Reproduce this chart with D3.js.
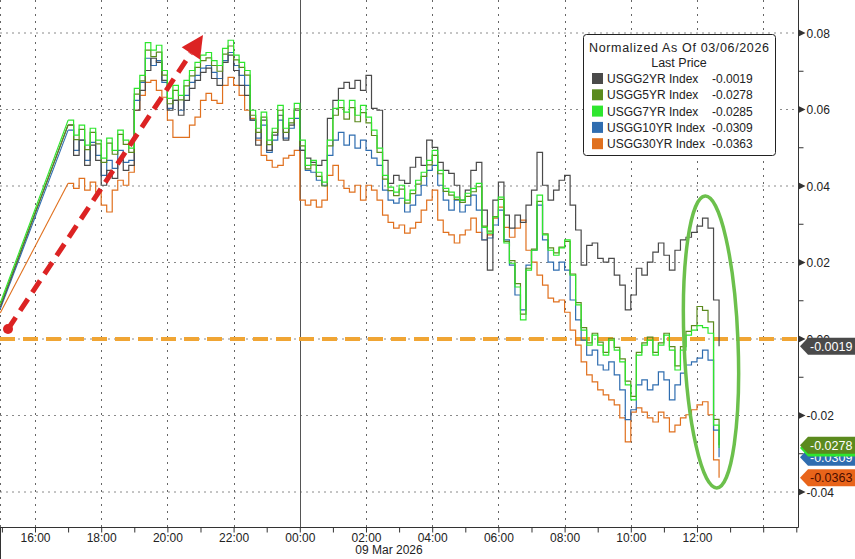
<!DOCTYPE html>
<html><head><meta charset="utf-8">
<script src="https://cdn.jsdelivr.net/npm/d3@7"></script>
<style>body{margin:0;background:#fff;} svg{display:block;font-family:"Liberation Sans",Arial,sans-serif;}</style>
</head><body><svg id="c" width="855" height="559"></svg>
<script>
// ---- data ----
const seriesNames = ["USGG2YR Index","USGG5YR Index","USGG7YR Index","USGG10YR Index","USGG30YR Index"];
const lastPrices = [-0.0019,-0.0278,-0.0285,-0.0309,-0.0363];
const startTime = Date.UTC(2026,2,8,14,57);
const firstTick = Date.UTC(2026,2,8,17,0);   // then every 10 minutes
const stepMinutes = 10;
const yTicks = [0.08,0.06,0.04,0.02,0.00,-0.02,-0.04];
const yMinor = [0.07,0.05,0.03,0.01,-0.01,-0.03];
const dateLabel = "09 Mar 2026";
const legendTitle = "Normalized As Of 03/06/2026";
const legendSub = "Last Price";

const usgg2 = [.0083,
.0559,.0480,.0520,.0454,.0507,.0467,.0402,.0441,.0420,.0467,.0441,.0454,
.0598,.0650,.0702,.0734,.0723,.0676,.0598,.0624,.0585,.0624,.0655,.0676,
.0697,.0708,.0681,.0663,.0723,.0742,.0702,.0663,.0637,.0572,.0507,.0572,
.0493,.0533,.0585,.0520,.0559,.0598,.0493,.0473,.0462,.0454,.0467,.0577,
.0624,.0655,.0671,.0655,.0676,.0650,.0689,.0603,.0598,.0467,.0407,.0428,
.0415,.0407,.0449,.0475,.0454,.0520,.0501,.0462,.0441,.0433,.0402,.0363,
.0389,.0441,.0462,.0337,.0180,.0363,.0410,.0324,.0290,.0324,.0305,.0350,
.0389,.0488,.0402,.0363,.0389,.0415,.0428,.0350,.0285,.0193,.0245,.0251,
.0211,.0201,.0211,.0167,.0141,.0076,.0115,.0185,.0167,.0201,.0227,.0251,
.0219,.0180,.0232,.0259,.0266,.0279,.0295,.0316,.0290,.0102,-.0019];

const usgg5 = [.0088,
.0560,.0521,.0548,.0495,.0540,.0510,.0462,.0512,.0483,.0535,.0509,.0488,
.0640,.0675,.0755,.0738,.0750,.0690,.0615,.0650,.0625,.0662,.0688,.0710,
.0728,.0735,.0715,.0700,.0745,.0766,.0730,.0710,.0690,.0585,.0540,.0580,
.0508,.0540,.0598,.0540,.0565,.0602,.0505,.0445,.0455,.0425,.0400,.0505,
.0585,.0605,.0575,.0605,.0568,.0592,.0565,.0532,.0488,.0418,.0388,.0375,
.0392,.0355,.0380,.0405,.0425,.0455,.0480,.0432,.0386,.0376,.0365,.0357,
.0373,.0385,.0398,.0295,.0282,.0320,.0365,.0255,.0205,.0145,.0065,.0185,
.0235,.0360,.0275,.0238,.0225,.0240,.0255,.0170,.0095,.0030,-.0010,.0015,
-.0008,-.0035,.0002,-.0022,-.0052,-.0110,-.0150,-.0035,-.0010,.0005,-.0035,-.0010,
.0015,-.0020,-.0070,-.0020,.0020,.0035,.0085,.0075,.0045,-.0210,-.0278];

const usgg7 = [.0094,
.0572,.0533,.0559,.0507,.0551,.0520,.0473,.0525,.0493,.0546,.0520,.0499,
.0655,.0689,.0775,.0755,.0768,.0702,.0629,.0663,.0637,.0676,.0702,.0723,
.0742,.0749,.0728,.0715,.0760,.0781,.0742,.0723,.0702,.0598,.0551,.0593,
.0520,.0551,.0611,.0551,.0577,.0616,.0520,.0454,.0467,.0436,.0410,.0520,
.0603,.0624,.0593,.0624,.0585,.0611,.0580,.0546,.0499,.0428,.0397,.0384,
.0402,.0363,.0389,.0415,.0436,.0467,.0493,.0441,.0394,.0384,.0371,.0363,
.0381,.0394,.0407,.0292,.0277,.0319,.0371,.0251,.0198,.0136,.0050,.0180,
.0232,.0376,.0272,.0232,.0219,.0238,.0259,.0167,.0089,.0023,-.0016,.0010,
-.0016,-.0042,-.0003,-.0029,-.0060,-.0120,-.0159,-.0042,-.0016,-.0003,-.0042,-.0016,
.0010,-.0029,-.0081,-.0029,.0010,.0023,.0035,.0030,.0015,-.0225,-.0285];

const usgg10 = [.0078,
.0546,.0493,.0520,.0467,.0514,.0480,.0428,.0467,.0446,.0493,.0462,.0467,
.0624,.0671,.0734,.0715,.0728,.0671,.0603,.0624,.0598,.0637,.0671,.0689,
.0708,.0715,.0697,.0681,.0728,.0749,.0715,.0689,.0663,.0572,.0525,.0559,
.0488,.0520,.0572,.0525,.0551,.0577,.0493,.0441,.0436,.0415,.0402,.0480,
.0520,.0540,.0507,.0533,.0499,.0520,.0493,.0473,.0454,.0389,.0363,.0355,
.0368,.0332,.0350,.0376,.0402,.0441,.0454,.0402,.0363,.0337,.0363,.0332,
.0350,.0376,.0337,.0259,.0264,.0298,.0337,.0259,.0193,.0115,.0076,.0193,
.0232,.0350,.0259,.0201,.0180,.0201,.0180,.0102,.0050,-.0003,-.0042,-.0029,
-.0068,-.0081,-.0060,-.0094,-.0133,-.0211,-.0185,-.0120,-.0107,-.0133,-.0120,-.0086,
-.0107,-.0159,-.0120,-.0089,-.0068,-.0060,-.0050,-.0029,-.0055,-.0238,-.0309];

const usgg30 = [.0068,
.0407,.0394,.0420,.0389,.0410,.0384,.0350,.0332,.0389,.0415,.0402,.0436,
.0598,.0637,.0671,.0676,.0650,.0632,.0572,.0527,.0527,.0527,.0559,.0580,
.0624,.0642,.0624,.0616,.0663,.0684,.0663,.0637,.0598,.0577,.0520,.0480,
.0467,.0449,.0454,.0473,.0480,.0493,.0363,.0350,.0363,.0345,.0363,.0428,
.0454,.0415,.0394,.0384,.0402,.0363,.0402,.0389,.0363,.0324,.0305,.0290,
.0298,.0277,.0290,.0305,.0337,.0363,.0389,.0311,.0279,.0272,.0251,.0272,
.0285,.0316,.0279,.0259,.0272,.0316,.0345,.0292,.0266,.0290,.0311,.0232,
.0201,.0167,.0141,.0107,.0097,.0102,.0070,.0023,-.0016,-.0060,-.0094,-.0112,
-.0133,-.0146,-.0159,-.0172,-.0206,-.0269,-.0191,-.0180,-.0191,-.0206,-.0217,-.0191,
-.0206,-.0243,-.0225,-.0206,-.0198,-.0185,-.0172,-.0164,-.0198,-.0316,-.0363];

const seriesValues = [usgg2, usgg5, usgg7, usgg10, usgg30];
const colors = ["#4a4a4a","#5b8a1e","#2ee62e","#2f6db0","#e0701e"];
const tagColors = ["#4a4a4a","#5b8a1e","#2ee62e","#2f6db0","#e8641a"];
const tagText = ["#fff","#fff","#fff","#fff","#4a0d00"];

// ---- chart ----
const svg = d3.select("#c");
const W = 798, H = 527;
const x = d3.scaleUtc()
  .domain([Date.UTC(2026,2,8,14,56,34), Date.UTC(2026,2,9,15,3,5)])
  .range([0, W]);
const y = d3.scaleLinear().domain([-0.04, 0.08]).range([492, 33]);

const times = [startTime].concat(d3.range(usgg2.length - 1).map(i => firstTick + i * stepMinutes * 60000));

// gridlines
const g2 = x.ticks(d3.utcHour.every(2));
svg.append("g").selectAll("line").data(yTicks).join("line")
  .attr("x1", 0).attr("x2", W).attr("y1", d => y(d)).attr("y2", d => y(d))
  .attr("stroke", "#8a8a8a").attr("stroke-width", 1).attr("stroke-dasharray", "2,4");
svg.append("g").selectAll("line").data(g2).join("line")
  .attr("x1", d => Math.round(x(d)) + 0.5).attr("x2", d => Math.round(x(d)) + 0.5)
  .attr("y1", 0).attr("y2", H)
  .attr("stroke", d => d.getUTCHours() === 0 ? "#555" : "#666")
  .attr("stroke-width", 1)
  .attr("stroke-dasharray", d => d.getUTCHours() === 0 ? null : "2,5");
svg.append("line").attr("x1", 0.5).attr("x2", 0.5).attr("y1", 0).attr("y2", H)
  .attr("stroke", "#666").attr("stroke-dasharray", "2,5");
svg.append("line").attr("x1", 0.5).attr("x2", 0.5).attr("y1", H).attr("y2", 559)
  .attr("stroke", "#333");

// orange dashed level line
svg.append("line").attr("x1", 0).attr("x2", 800).attr("y1", y(0)).attr("y2", y(0))
  .attr("stroke", "#f0a534").attr("stroke-width", 4).attr("stroke-dasharray", "15,8");

// series: straight ramp over the gap, then step-like intraday ticks
const lineRamp = d3.line().x((d, i) => x(times[i])).y(d => y(d));
const lineStep = d3.line().x(d => x(d[0])).y(d => y(d[1])).curve(d3.curveStepAfter);
const drawOrder = [4, 3, 0, 1, 2];
drawOrder.forEach(k => {
  const vals = seriesValues[k];
  svg.append("path").datum(vals.slice(0, 2)).attr("d", lineRamp)
    .attr("fill", "none").attr("stroke", colors[k]).attr("stroke-width", 1.1);
  const pts = vals.map((v, i) => [times[i], v]).slice(1);
  svg.append("path").datum(pts).attr("d", lineStep)
    .attr("fill", "none").attr("stroke", colors[k]).attr("stroke-width", 1.2);
});

// red dashed arrow
const ax0 = 8, ay0 = 329, tipX = 203, tipY = 35;
const dx = tipX - ax0, dy = tipY - ay0, len = Math.hypot(dx, dy);
const ux = dx / len, uy = dy / len;
const bx = tipX - 22 * ux, by = tipY - 22 * uy;
svg.append("line").attr("x1", ax0).attr("y1", ay0).attr("x2", bx).attr("y2", by)
  .attr("stroke", "#dc2323").attr("stroke-width", 5).attr("stroke-dasharray", "14,8");
svg.append("path")
  .attr("d", `M${tipX},${tipY}L${bx - uy * 11},${by + ux * 11}L${bx + uy * 11},${by - ux * 11}Z`)
  .attr("fill", "#dc2323");
svg.append("circle").attr("cx", ax0).attr("cy", ay0).attr("r", 5).attr("fill", "#dc2323");

// green ellipse
svg.append("ellipse").attr("cx", 0).attr("cy", 0).attr("rx", 27).attr("ry", 146)
  .attr("transform", "translate(711,342) rotate(-2.3)")
  .attr("fill", "none").attr("stroke", "#6cc04c").attr("stroke-width", 3.5);

// axes frame
svg.append("line").attr("x1", 0).attr("x2", W + 0.5).attr("y1", H + 0.5).attr("y2", H + 0.5).attr("stroke", "#333");
svg.append("line").attr("x1", W + 0.5).attr("x2", W + 0.5).attr("y1", 0).attr("y2", H + 0.5).attr("stroke", "#333");

// x axis
const xAxis = d3.axisBottom(x).ticks(d3.utcHour.every(1)).tickSize(5)
  .tickFormat(d => d.getUTCHours() % 2 === 0 && x(d) < 740 ? d3.utcFormat("%H:%M")(d) : "");
const gx = svg.append("g").attr("transform", `translate(0,${H + 0.5})`).call(xAxis);
gx.select(".domain").remove();
gx.selectAll("line").attr("stroke", "#333");
gx.selectAll("text").attr("font-size", 12).attr("fill", "#222").attr("dy", "0.55em")
  .attr("font-family", "Liberation Sans Narrow, Liberation Sans, Arial");
svg.append("text").attr("x", 389).attr("y", 554).attr("text-anchor", "middle")
  .attr("font-size", 12).attr("fill", "#222").text(dateLabel);

// y axis
const gy = svg.append("g").attr("transform", `translate(${W + 0.5},0)`);
gy.selectAll("line.minor").data(yMinor).join("line").attr("class", "minor")
  .attr("x1", 0).attr("x2", 5).attr("y1", d => y(d)).attr("y2", d => y(d)).attr("stroke", "#333");
gy.selectAll("path.tri").data(yTicks).join("path").attr("class", "tri")
  .attr("d", d => `M0,${y(d) - 3.5}L7,${y(d)}L0,${y(d) + 3.5}Z`).attr("fill", "#333");
gy.selectAll("text").data(yTicks).join("text")
  .attr("x", 8).attr("y", d => y(d) + 4.5).attr("font-size", 12).attr("fill", "#222")
  .text(d => d.toFixed(2));

// last price tags
const tagOrder = [4, 3, 2, 1, 0];
tagOrder.forEach(k => {
  const v = lastPrices[k], ty = y(v);
  const g = svg.append("g");
  g.append("path").attr("d", `M800,${ty}L808,${ty - 8.5}L855,${ty - 8.5}L855,${ty + 8.5}L808,${ty + 8.5}Z`)
    .attr("fill", tagColors[k]);
  g.append("text").attr("x", 810).attr("y", ty + 4.5).attr("font-size", 12.5)
    .attr("fill", tagText[k]).text(v.toFixed(4));
});

// legend
const lg = svg.append("g");
lg.append("rect").attr("x", 583.5).attr("y", 34.5).attr("width", 192).attr("height", 121).attr("rx", 3)
  .attr("fill", "#fff").attr("stroke", "#222");
lg.append("text").attr("x", 589).attr("y", 52).attr("font-size", 12.5)
  .attr("textLength", 180).attr("lengthAdjust", "spacing")
  .attr("fill", "#222").text(legendTitle);
lg.append("text").attr("x", 679).attr("y", 67).attr("text-anchor", "middle").attr("font-size", 12.5)
  .attr("fill", "#222").text(legendSub);
seriesNames.forEach((n, k) => {
  const ry = 83 + k * 16.3;
  lg.append("rect").attr("x", 592).attr("y", ry - 10).attr("width", 11).attr("height", 11).attr("fill", colors[k]);
  lg.append("text").attr("x", 607).attr("y", ry).attr("font-size", 12).attr("fill", "#222").text(n);
  lg.append("text").attr("x", 712).attr("y", ry).attr("font-size", 12).attr("fill", "#222").text(lastPrices[k].toFixed(4));
});
</script></body></html>
